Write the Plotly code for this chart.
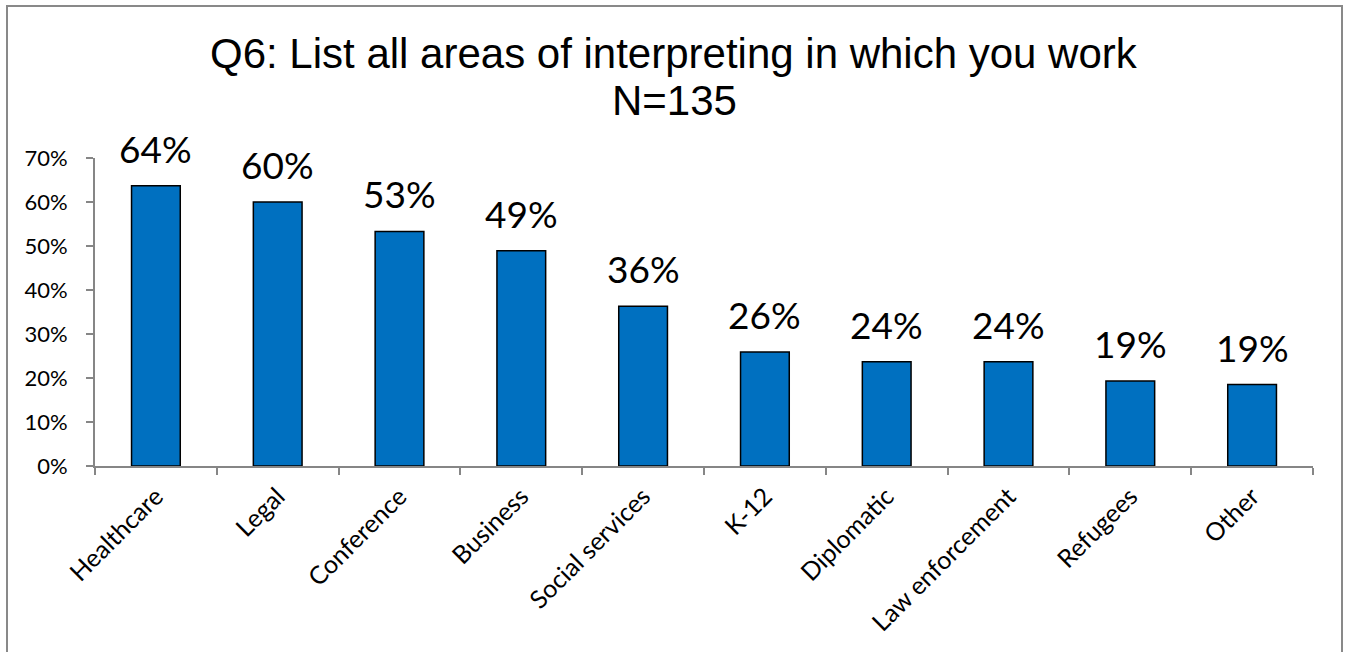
import plotly.graph_objects as go

categories = ["Healthcare", "Legal", "Conference", "Business", "Social services",
              "K-12", "Diplomatic", "Law enforcement", "Refugees", "Other"]
values = [0.637, 0.600, 0.533, 0.489, 0.363, 0.259, 0.237, 0.237, 0.193, 0.185]
labels = ["64%", "60%", "53%", "49%", "36%", "26%", "24%", "24%", "19%", "19%"]
y_ticks = [0, 0.1, 0.2, 0.3, 0.4, 0.5, 0.6, 0.7]
y_tick_labels = ["0%", "10%", "20%", "30%", "40%", "50%", "60%", "70%"]
title_lines = ["Q6: List all areas of interpreting in which you work", "N=135"]

W, H = 1347, 652
L, R, T, B = 95, 34, 158, 186
pw, ph = W - L - R, H - T - B

fig = go.Figure()
fig.add_trace(go.Bar(
    x=categories, y=values,
    marker=dict(color="#0070C0", line=dict(color="#000000", width=1.5)),
    hoverinfo="skip",
))

for c, v, t in zip(categories, values, labels):
    fig.add_annotation(x=c, y=v, text=t, showarrow=False, yanchor="bottom",
                       yshift=13, font=dict(family="Lato, Carlito, sans-serif", size=37, color="#000"))

def px_x(p):
    return (p - L) / pw

def px_y(p):
    return (H - B - p) / ph

for line, cy in zip(title_lines, [53, 100]):
    fig.add_annotation(xref="paper", yref="paper", x=px_x(674), y=px_y(cy),
                       xanchor="center", yanchor="middle", text=line, showarrow=False,
                       font=dict(family="Liberation Sans, Arial, sans-serif", size=42, color="#000"))

fig.add_shape(type="rect", xref="paper", yref="paper",
              x0=px_x(7), x1=px_x(1342), y0=px_y(660), y1=px_y(6),
              line=dict(color="#898989", width=2), fillcolor="rgba(0,0,0,0)", layer="below")

fig.update_layout(
    width=W, height=H,
    margin=dict(l=L, r=R, t=T, b=B),
    paper_bgcolor="white", plot_bgcolor="white",
    showlegend=False,
    bargap=0.6,
    xaxis=dict(showline=True, linecolor="#868686", linewidth=2, ticks="outside",
               tickson="boundaries", ticklen=7, tickcolor="#868686", tickwidth=2,
               tickangle=-45, showgrid=False, ticklabelstandoff=4,
               tickfont=dict(family="Lato, Carlito, sans-serif", size=25, color="#000")),
    yaxis=dict(range=[0, 0.7], tickvals=y_ticks, ticktext=y_tick_labels,
               showline=True, linecolor="#868686", linewidth=2, ticks="outside",
               ticklen=7, tickcolor="#868686", tickwidth=2, showgrid=False, zeroline=False,
               ticklabelstandoff=14,
               tickfont=dict(family="Lato, Carlito, sans-serif", size=22, color="#000")),
)

fig.write_html("out.html")
